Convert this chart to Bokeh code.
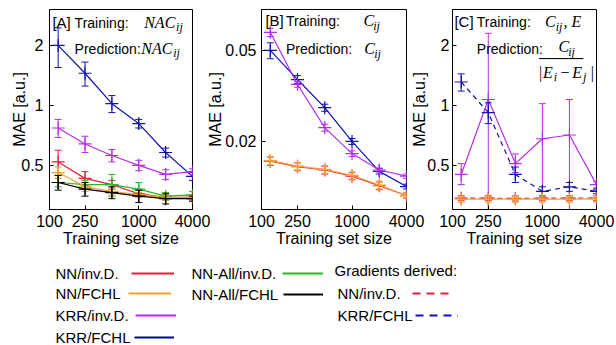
import math
from bokeh.plotting import figure
from bokeh.models import (Range1d, FixedTicker, CustomJSTickFormatter, Label,
                          Legend, LegendItem)
from bokeh.layouts import row, column
from bokeh.embed import file_html
from bokeh.resources import INLINE

# ---------------- data ----------------
sizes = [125, 250, 500, 1000, 2000, 4000]
x_ticks = [100, 250, 1000, 4000]
x_tick_labels = ["100", "250", "1000", "4000"]
yticks_a = [0.5, 1, 2]
yticks_a_labels = ["0.5", "1", "2"]
yticks_b = [0.01, 0.02, 0.05]
yticks_b_labels = ["0.01", "0.02", "0.05"]
yticks_c = [0.5, 1, 2]
yticks_c_labels = ["0.5", "1", "2"]

# Panel A (training NAC, prediction NAC)
a_krr_fchl = [2.00, 1.45, 1.02, 0.81, 0.58, 0.44]
a_krr_fchl_err = [0.45, 0.20, 0.10, 0.04, 0.03, 0.02]
a_krr_invd = [0.77, 0.64, 0.56, 0.50, 0.45, 0.465]
a_krr_invd_err = [0.08, 0.06, 0.04, 0.03, 0.025, 0.015]
a_nn_invd = [0.52, 0.43, 0.40, 0.36, 0.345, 0.345]
a_nn_invd_err = [0.075, 0.035, 0.02, 0.015, 0.01, 0.01]
a_nn_fchl = [0.46, 0.39, 0.37, 0.355, 0.345, 0.345]
a_nn_fchl_err = [0.03, 0.02, 0.015, 0.01, 0.01, 0.01]
a_nnall_invd = [0.41, 0.40, 0.40, 0.38, 0.35, 0.355]
a_nnall_invd_err = [0.02, 0.02, 0.05, 0.03, 0.015, 0.015]
a_nnall_fchl = [0.41, 0.38, 0.365, 0.35, 0.34, 0.34]
a_nnall_fchl_err = [0.035, 0.03, 0.025, 0.025, 0.02, 0.01]

# Panel B (training C, prediction C)
b_krr_fchl = [0.050, 0.0373, 0.0281, 0.0200, 0.0148, 0.0127]
b_krr_fchl_err = [0.004, 0.0015, 0.001, 0.0006, 0.0004, 0.0003]
b_krr_invd = [0.060, 0.0355, 0.0230, 0.0177, 0.0150, 0.0141]
b_krr_invd_err = [0.0025, 0.001, 0.0008, 0.0005, 0.0003, 0.0003]
b_nn_invd = [0.0164, 0.0155, 0.0150, 0.0141, 0.0128, 0.0116]
b_nn_invd_err = [0.0007, 0.0006, 0.0006, 0.0005, 0.0005, 0.0003]
b_nn_fchl = [0.0165, 0.0156, 0.0151, 0.0142, 0.0129, 0.0116]
b_nn_fchl_err = [0.0007, 0.0006, 0.0006, 0.0005, 0.0005, 0.0003]

# Panel C (training C,E ; prediction C/|Ei-Ej|)
c_krr_invd = [0.45, 1.07, 0.51, 0.68, 0.71, 0.40]
c_krr_invd_lo = [0.40, 0.10, 0.46, 0.10, 0.10, 0.385]
c_krr_invd_hi = [0.51, 2.30, 0.57, 1.02, 1.07, 0.415]
c_grad_krr_fchl = [1.31, 0.92, 0.45, 0.37, 0.39, 0.37]
c_grad_krr_fchl_err = [0.13, 0.11, 0.04, 0.02, 0.02, 0.01]
c_grad_nn_invd = [0.342, 0.342, 0.341, 0.342, 0.342, 0.342]
c_grad_nn_invd_err = [0.01, 0.01, 0.01, 0.01, 0.01, 0.01]
c_nn_fchl = [0.338, 0.338, 0.338, 0.338, 0.338, 0.339]
c_nn_fchl_err = [0.012, 0.012, 0.012, 0.012, 0.012, 0.012]

RED = "#e41e3c"
ORANGE = "#f5a030"
PURPLE = "#b82ee6"
BLUE = "#1212b0"
GREEN = "#22bb22"
BLACK = "#000000"

SANS = "Liberation Sans"
SERIF = "Liberation Serif"

# ---------------- helpers ----------------
FRAME_TOP = 9
FRAME_H = 200
FRAME_W = 148


def xd(px, left):
    return 10 ** (2 + (px - left) / FRAME_W * (math.log10(4000) - 2))


def yd(py, ylo, yhi):
    a, b = math.log10(ylo), math.log10(yhi)
    return 10 ** (b - (py - FRAME_TOP) / FRAME_H * (b - a))


def fmt(ticks, labels):
    return CustomJSTickFormatter(args=dict(t=ticks, l=labels),
                                 code="const i = t.indexOf(tick); return i < 0 ? '' : l[i];")


def style_axis(ax):
    ax.major_tick_in = 4
    ax.major_tick_out = 0
    ax.minor_tick_line_color = None
    ax.axis_line_color = "black"
    ax.major_label_text_font = SANS
    ax.major_label_text_font_size = "16px"
    ax.major_label_text_color = "black"
    ax.axis_label_text_font = SANS
    ax.axis_label_text_font_size = "16px"
    ax.axis_label_text_font_style = "normal"
    ax.axis_label_text_color = "black"


def make_panel(width, bl, br, ylo, yhi, yt, ytl, ml, tick_so, lab_so):
    p = figure(width=width, height=245, x_axis_type="log", y_axis_type="log",
               x_range=Range1d(100, 4000), y_range=Range1d(ylo, yhi),
               output_backend="svg", toolbar_location=None, title=None,
               min_border_left=bl, min_border_right=br, min_border_top=1,
               min_border_bottom=44, border_fill_color=None,
               background_fill_color="white", outline_line_color="black",
               margin=(0, 0, 0, ml))
    p.grid.visible = False
    xa = p.xaxis[0]
    ya = p.yaxis[0]
    style_axis(xa)
    style_axis(ya)
    xa.ticker = FixedTicker(ticks=x_ticks, minor_ticks=[])
    xa.formatter = fmt(x_ticks, x_tick_labels)
    xa.axis_label = "Training set size"
    xa.major_label_standoff = 5
    xa.axis_label_standoff = 0
    ya.ticker = FixedTicker(ticks=yt, minor_ticks=[])
    ya.formatter = fmt(yt, ytl)
    ya.axis_label = "MAE [a.u.]"
    ya.major_label_standoff = tick_so
    ya.axis_label_standoff = lab_so
    return p


def series(p, vals, color, lo, hi, dash="solid"):
    p.segment(x0=sizes, y0=lo, x1=sizes, y1=hi, line_color=color, line_width=1)
    p.scatter(x=sizes, y=lo, marker="dash", size=7, line_color=color, line_width=1)
    p.scatter(x=sizes, y=hi, marker="dash", size=7, line_color=color, line_width=1)
    p.line(x=sizes, y=vals, line_color=color, line_width=1.2, line_dash=dash)
    p.scatter(x=sizes, y=vals, marker="cross", size=13, line_color=color, line_width=1.2)


def sym(vals, err):
    return [v - e for v, e in zip(vals, err)], [v + e for v, e in zip(vals, err)]


def lab(p, text, px, py, left, ylo, yhi, font=SANS, size="14px", style="normal"):
    p.add_layout(Label(x=xd(px, left), y=yd(py, ylo, yhi), text=text, text_font=font,
                       text_font_size=size, text_font_style=style, text_baseline="middle",
                       text_align="left", text_color="black"))


# ---------------- Panel A ----------------
AL, AYLO, AYHI = 44, 0.30, 3.03
pA = make_panel(210, 36, 26, AYLO, AYHI, yticks_a, yticks_a_labels, 0, 6, -10)
series(pA, a_krr_fchl, BLUE, *sym(a_krr_fchl, a_krr_fchl_err))
series(pA, a_krr_invd, PURPLE, *sym(a_krr_invd, a_krr_invd_err))
series(pA, a_nn_invd, RED, *sym(a_nn_invd, a_nn_invd_err))
series(pA, a_nnall_invd, GREEN, *sym(a_nnall_invd, a_nnall_invd_err))
series(pA, a_nn_fchl, ORANGE, *sym(a_nn_fchl, a_nn_fchl_err))
series(pA, a_nnall_fchl, BLACK, *sym(a_nnall_fchl, a_nnall_fchl_err))
lab(pA, "[A]", 47, 22, AL, AYLO, AYHI, size="15px")
lab(pA, "Training:", 70, 22, AL, AYLO, AYHI)
lab(pA, "NAC", 142, 22, AL, AYLO, AYHI, SERIF, "16px", "italic")
lab(pA, "ij", 175, 26, AL, AYLO, AYHI, SERIF, "12px", "italic")
lab(pA, "Prediction:", 70, 48, AL, AYLO, AYHI)
lab(pA, "NAC", 139, 48, AL, AYLO, AYHI, SERIF, "16px", "italic")
lab(pA, "ij", 172, 52, AL, AYLO, AYHI, SERIF, "12px", "italic")

# ---------------- Panel B ----------------
BL, BYLO, BYHI = 258, 0.01008, 0.0755
pB = make_panel(222, 54, 20, BYLO, BYHI, yticks_b, yticks_b_labels, -14, 5, -2)
series(pB, b_krr_fchl, BLUE, *sym(b_krr_fchl, b_krr_fchl_err))
series(pB, b_krr_invd, PURPLE, *sym(b_krr_invd, b_krr_invd_err))
series(pB, b_nn_invd, RED, *sym(b_nn_invd, b_nn_invd_err))
series(pB, b_nn_fchl, ORANGE, *sym(b_nn_fchl, b_nn_fchl_err))
lab(pB, "[B]", 262, 20, BL, BYLO, BYHI, size="15px")
lab(pB, "Training:", 283, 20, BL, BYLO, BYHI)
lab(pB, "C", 362, 20, BL, BYLO, BYHI, SERIF, "16px", "italic")
lab(pB, "ij", 372, 25, BL, BYLO, BYHI, SERIF, "12px", "italic")
lab(pB, "Prediction:", 283, 48, BL, BYLO, BYHI)
lab(pB, "C", 363, 48, BL, BYLO, BYHI, SERIF, "16px", "italic")
lab(pB, "ij", 373, 53, BL, BYLO, BYHI, SERIF, "12px", "italic")

# ---------------- Panel C ----------------
CL, CYLO, CYHI = 448, 0.30, 3.03
pC = make_panel(208, 40, 20, CYLO, CYHI, yticks_c, yticks_c_labels, -18, 3, -4)
series(pC, c_krr_invd, PURPLE, c_krr_invd_lo, c_krr_invd_hi)
series(pC, c_grad_krr_fchl, BLUE, *sym(c_grad_krr_fchl, c_grad_krr_fchl_err), dash="5 4")
series(pC, c_grad_nn_invd, RED, *sym(c_grad_nn_invd, c_grad_nn_invd_err), dash="5 4")
series(pC, c_nn_fchl, ORANGE, *sym(c_nn_fchl, c_nn_fchl_err))
lab(pC, "[C]", 450, 21, CL, CYLO, CYHI, size="15px")
lab(pC, "Training:", 473, 21, CL, CYLO, CYHI)
lab(pC, "C", 543, 21, CL, CYLO, CYHI, SERIF, "16px", "italic")
lab(pC, "ij", 554, 26, CL, CYLO, CYHI, SERIF, "12px", "italic")
lab(pC, ", E", 562, 21, CL, CYLO, CYHI, SERIF, "16px", "italic")
lab(pC, "Prediction:", 473, 48, CL, CYLO, CYHI)
lab(pC, "C", 557, 46, CL, CYLO, CYHI, SERIF, "16px", "italic")
lab(pC, "ij", 567, 51, CL, CYLO, CYHI, SERIF, "12px", "italic")
lab(pC, "\u2500\u2500\u2500\u2500\u2500\u2500", 537, 58, CL, CYLO, CYHI, "DejaVu Sans Mono", "12.2px")
lab(pC, "|", 537, 72, CL, CYLO, CYHI, SERIF, "16px")
lab(pC, "E", 541, 72, CL, CYLO, CYHI, SERIF, "16px", "italic")
lab(pC, "i", 552, 76, CL, CYLO, CYHI, SERIF, "12px", "italic")
lab(pC, "\u2212", 559, 72, CL, CYLO, CYHI, SERIF, "16px")
lab(pC, "E", 571, 72, CL, CYLO, CYHI, SERIF, "16px", "italic")
lab(pC, "j", 582, 76, CL, CYLO, CYHI, SERIF, "12px", "italic")
lab(pC, "|", 590, 72, CL, CYLO, CYHI, SERIF, "16px")

# ---------------- Legend area ----------------
LH = 92
leg = figure(width=600, height=LH, x_range=Range1d(0, 600), y_range=Range1d(LH, 0),
             output_backend="svg", toolbar_location=None, title=None,
             x_axis_location=None, y_axis_location=None,
             min_border_left=0, min_border_right=0, min_border_top=0, min_border_bottom=0,
             outline_line_color=None, border_fill_color=None, background_fill_color=None)
leg.grid.visible = False

legend_entries = [
    # text, text_x, y, swatch_x, swatch_w, renderer data, color, dash
    ("NN/inv.D.", 47, 20, 123, 43, a_nn_invd, RED, "solid"),
    ("NN/FCHL", 47, 40, 120, 43, a_nn_fchl, ORANGE, "solid"),
    ("KRR/inv.D.", 47, 62, 127, 41, a_krr_invd, PURPLE, "solid"),
    ("KRR/FCHL", 47, 84, 126, 40, a_krr_fchl, "#000a8c", "solid"),
    ("NN-All/inv.D.", 183, 20, 274, 41, a_nnall_invd, GREEN, "solid"),
    ("NN-All/FCHL", 183, 41, 275, 40, a_nnall_fchl, BLACK, "solid"),
    ("NN/inv.D.", 329, 40, 404, 38, c_grad_nn_invd, RED, "8 6"),
    ("KRR/FCHL", 329, 62, 407, 43, c_grad_krr_fchl, BLUE, "8 6"),
]
GH = 10
for text, tx, ty, sx, sw, data, color, dash in legend_entries:
    leg.add_layout(Label(x=tx, y=ty, text=text, text_font=SANS, text_font_size="15px",
                         text_baseline="middle", text_align="left", text_color="black"))
    r = leg.line(x=sizes, y=data, line_color=color, line_width=2, line_dash=dash,
                 visible=False)
    lg = Legend(items=[LegendItem(label=" ", renderers=[r])],
                location=(sx, LH - (ty + GH / 2)), glyph_width=sw, glyph_height=GH,
                label_width=1, label_height=GH, label_standoff=0, padding=0, margin=0,
                spacing=0, border_line_color=None, background_fill_alpha=0,
                label_text_font_size="10px")
    leg.add_layout(lg)

leg.add_layout(Label(x=326, y=17, text="Gradients derived:", text_font=SANS,
                     text_font_size="15px", text_baseline="middle", text_align="left",
                     text_color="black"))

layout = column(row(pA, pB, pC), leg, margin=(8, 0, 0, 8))
open("out.html", "w").write(file_html(layout, INLINE))
